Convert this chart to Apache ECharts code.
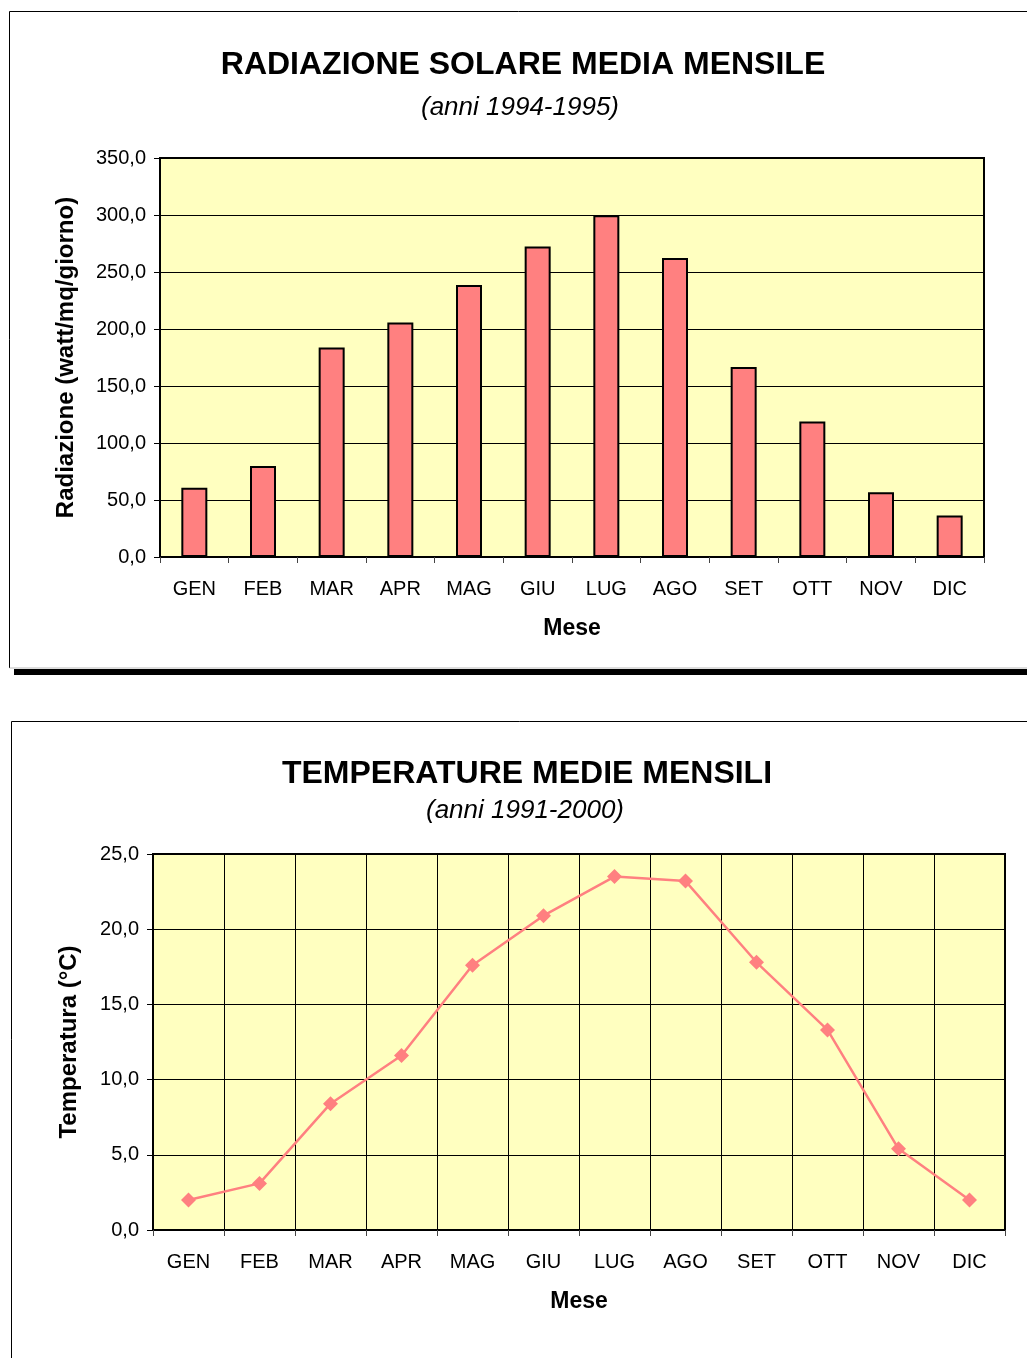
<!DOCTYPE html>
<html>
<head>
<meta charset="utf-8">
<script src="https://cdn.jsdelivr.net/npm/echarts@6/dist/echarts.min.js"></script>
<style>
html,body{margin:0;padding:0;background:#fff;}
#c{width:1027px;height:1358px;}
</style>
</head>
<body>
<div id="c"></div>
<script>
// ---- data ----
const months = ['GEN','FEB','MAR','APR','MAG','GIU','LUG','AGO','SET','OTT','NOV','DIC'];
const radiazione = [60.7, 79.8, 183.7, 205.7, 238.5, 272.3, 299.8, 262.3, 166.7, 118.8, 56.9, 36.4];
const temperatura = [2.0, 3.1, 8.4, 11.6, 17.6, 20.9, 23.5, 23.2, 17.8, 13.3, 5.4, 2.0];
const radTicks = {min: 0, max: 350, interval: 50};
const tempTicks = {min: 0, max: 25, interval: 5};
const title1 = 'RADIAZIONE SOLARE MEDIA MENSILE';
const sub1 = '(anni 1994-1995)';
const title2 = 'TEMPERATURE MEDIE MENSILI';
const sub2 = '(anni 1991-2000)';
const yName1 = 'Radiazione (watt/mq/giorno)';
const yName2 = 'Temperatura (°C)';
const xName = 'Mese';

const FONT = '"Liberation Sans", Arial, sans-serif';
const fmt = v => v.toFixed(1).replace('.', ',');

const chart = echarts.init(document.getElementById('c'), null, {renderer: 'canvas'});

function xAxisCfg(gridIndex, splitLine) {
  return {
    type: 'category', gridIndex, data: months, boundaryGap: true,
    name: xName, nameLocation: 'middle', nameGap: 60,
    nameTextStyle: {fontFamily: FONT, fontSize: 23, fontWeight: 'bold', color: '#000'},
    axisLine: {show: true, lineStyle: {color: '#000', width: 2}},
    axisTick: {show: true, length: 6, lineStyle: {color: '#444', width: 1}},
    axisLabel: {fontFamily: FONT, fontSize: 20, color: '#000', margin: 22, interval: 0},
    splitLine: {show: splitLine, lineStyle: {color: '#000', width: 1}}
  };
}
function yAxisCfg(gridIndex, t, name, gap) {
  return {
    type: 'value', gridIndex, min: t.min, max: t.max, interval: t.interval,
    name, nameLocation: 'middle', nameGap: gap,
    nameTextStyle: {fontFamily: FONT, fontSize: 24, fontWeight: 'bold', color: '#000'},
    axisLine: {show: true, lineStyle: {color: '#000', width: 2}},
    axisTick: {show: true, length: 6, lineStyle: {color: '#000', width: 1}},
    axisLabel: {fontFamily: FONT, fontSize: 20, color: '#000', margin: 14, formatter: fmt},
    splitLine: {show: true, lineStyle: {color: '#000', width: 1}}
  };
}

const option = {
  animation: false,
  backgroundColor: '#fff',
  grid: [
    {left: 160, top: 158, width: 824, height: 399, show: true, backgroundColor: '#FFFFC0', borderColor: '#000', borderWidth: 2},
    {left: 153, top: 854, width: 852, height: 376, show: true, backgroundColor: '#FFFFC0', borderColor: '#000', borderWidth: 2}
  ],
  xAxis: [xAxisCfg(0, false), xAxisCfg(1, true)],
  yAxis: [yAxisCfg(0, radTicks, yName1, 82), yAxisCfg(1, tempTicks, yName2, 72)],
  series: [
    {
      type: 'bar', xAxisIndex: 0, yAxisIndex: 0, data: radiazione, barWidth: 26,
      itemStyle: {color: '#FF8080', borderColor: '#000', borderWidth: 2}
    },
    {
      type: 'line', xAxisIndex: 1, yAxisIndex: 1, data: temperatura,
      symbol: 'diamond', symbolSize: 15,
      lineStyle: {color: '#FF8080', width: 2.5},
      itemStyle: {color: '#FF8080'}
    }
  ],
  graphic: [
    // frames
    {type: 'line', shape: {x1: 9.5, y1: 11.5, x2: 1027, y2: 11.5}, style: {stroke: '#000', lineWidth: 1}},
    {type: 'line', shape: {x1: 9.5, y1: 11.5, x2: 9.5, y2: 668}, style: {stroke: '#000', lineWidth: 1}},
    {type: 'line', shape: {x1: 9.5, y1: 668, x2: 1027, y2: 668}, style: {stroke: '#bbb', lineWidth: 1}},
    {type: 'rect', shape: {x: 14, y: 669, width: 1013, height: 6}, style: {fill: '#000'}},
    {type: 'line', shape: {x1: 11.5, y1: 721.5, x2: 1027, y2: 721.5}, style: {stroke: '#000', lineWidth: 1}},
    {type: 'line', shape: {x1: 11.5, y1: 721.5, x2: 11.5, y2: 1358}, style: {stroke: '#000', lineWidth: 1}},
    // titles
    {type: 'text', x: 523, y: 65, style: {text: title1, font: 'bold 32px ' + FONT, fill: '#000', textAlign: 'center', textVerticalAlign: 'middle'}},
    {type: 'text', x: 520, y: 108, style: {text: sub1, font: 'italic 26px ' + FONT, fill: '#000', textAlign: 'center', textVerticalAlign: 'middle'}},
    {type: 'text', x: 527, y: 774, style: {text: title2, font: 'bold 32px ' + FONT, fill: '#000', textAlign: 'center', textVerticalAlign: 'middle'}},
    {type: 'text', x: 525, y: 811, style: {text: sub2, font: 'italic 26px ' + FONT, fill: '#000', textAlign: 'center', textVerticalAlign: 'middle'}}
  ]
};
chart.setOption(option);
</script>
</body>
</html>
